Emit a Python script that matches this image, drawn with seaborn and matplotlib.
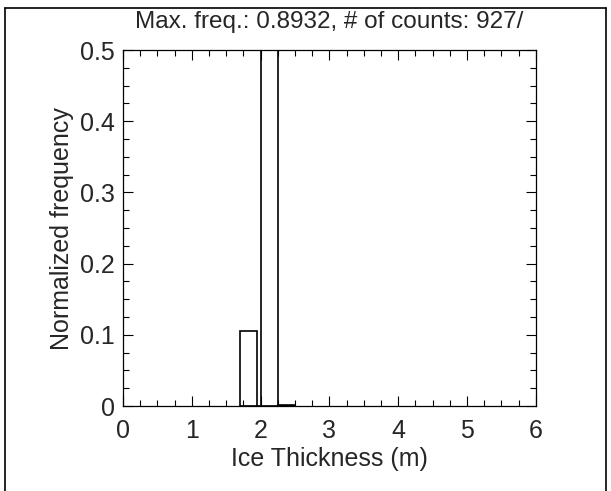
import matplotlib
matplotlib.use("Agg")
import matplotlib.pyplot as plt
from matplotlib.ticker import MultipleLocator
from matplotlib.lines import Line2D
import seaborn as sns
import pandas as pd

# Data
bin_edges = [1.70, 1.95, 2.00, 2.25, 2.50]
bin_centers = [1.825, 1.975, 2.125, 2.375]
frequency = [0.1057, 0.0, 0.8932, 0.0011]
x_ticks = [0, 1, 2, 3, 4, 5, 6]
y_ticks = [0, 0.1, 0.2, 0.3, 0.4, 0.5]
y_tick_labels = ["0", "0.1", "0.2", "0.3", "0.4", "0.5"]
title = "Max. freq.: 0.8932, # of counts: 927/"
xlabel = "Ice Thickness (m)"
ylabel = "Normalized frequency"

sns.set_style("ticks")
plt.rcParams['font.family'] = ['Liberation Sans', 'DejaVu Sans']

df = pd.DataFrame({"thickness": bin_centers, "freq": frequency})

fig = plt.figure(figsize=(6.11, 4.91), dpi=100)
ax = fig.add_axes([0.2013, 0.173, 0.6757, 0.725])

sns.histplot(data=df, x="thickness", weights="freq", bins=bin_edges,
             fill=False, element="bars", color="black", linewidth=1.2, ax=ax)

ax.set_xlim(0, 6)
ax.set_ylim(0, 0.5)
ax.set_xticks(x_ticks)
ax.set_xticklabels([str(t) for t in x_ticks])
ax.set_yticks(y_ticks)
ax.set_yticklabels(y_tick_labels)
ax.xaxis.set_minor_locator(MultipleLocator(0.25))
ax.yaxis.set_minor_locator(MultipleLocator(0.025))
ax.tick_params(which="both", direction="in", top=True, right=True, color="black", width=0.8)
ax.tick_params(which="major", length=7, labelsize=18)
ax.tick_params(axis="x", which="major", pad=9)
ax.tick_params(axis="y", which="major", pad=6)
ax.tick_params(which="minor", length=4)
for s in ax.spines.values():
    s.set_linewidth(0.9)
    s.set_color("black")

ax.set_title(title, fontsize=17.5, pad=16)
ax.set_xlabel(xlabel, fontsize=18, labelpad=3)
ax.set_ylabel(ylabel, fontsize=18, labelpad=4)

# outer frame of the scanned figure
for (x0, y0, x1, y1) in [(0.009, 0.0, 0.009, 0.984), (0.009, 0.984, 0.991, 0.984), (0.991, 0.984, 0.991, 0.0)]:
    fig.add_artist(Line2D([x0, x1], [y0, y1], transform=fig.transFigure, color="black", linewidth=1.2))

fig.savefig("out.png", dpi=100)
